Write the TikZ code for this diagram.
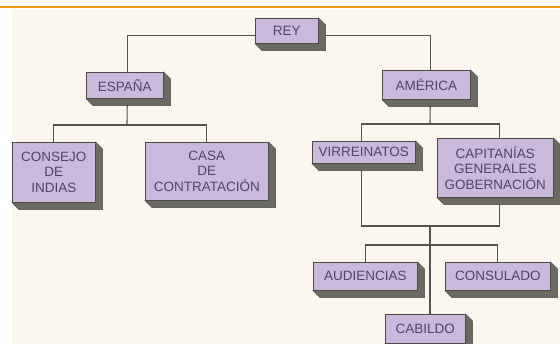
\documentclass[tikz,border=0pt]{standalone}
\usepackage{fontspec}
\setmainfont{Liberation Sans}
\usetikzlibrary{backgrounds}
\definecolor{cream}{HTML}{FBF6EE}
\definecolor{face}{HTML}{CBB8DD}
\definecolor{side}{HTML}{6B6A62}
\definecolor{txt}{HTML}{4E4763}
\definecolor{lin}{HTML}{55534F}
\definecolor{orangeline}{HTML}{F39A12}
\begin{document}
\begin{tikzpicture}[x=1pt,y=-1pt,
  org/.style={draw=side!70!black, line width=0.6pt, fill=face, text=txt,
    inner sep=0pt, anchor=north west, align=center,
    font=\fontsize{13.5}{15.5}\selectfont},
  link/.style={draw=lin, line width=1.1pt},
  extr/.style={fill=side, draw=side!70!black, line width=0.5pt}]
\useasboundingbox (0,0) rectangle (560,344);

\node[org, minimum width=63pt, minimum height=25pt] (rey) at (255,18) {REY};
\node[org, minimum width=77pt, minimum height=26pt] (espana) at (86,72) {ESPAÑA};
\node[org, minimum width=88pt, minimum height=29pt] (america) at (382,70) {AMÉRICA};
\node[org, minimum width=83pt, minimum height=60pt] (consejo) at (12,142) {CONSEJO\\DE\\INDIAS};
\node[org, minimum width=123pt, minimum height=58pt] (casa) at (145,142) {CASA\\DE\\CONTRATACIÓN};
\node[org, minimum width=103pt, minimum height=22pt] (virreinatos) at (312,141) {VIRREINATOS};
\node[org, minimum width=116pt, minimum height=59pt] (capitanias) at (437,138) {CAPITANÍAS\\GENERALES\\GOBERNACIÓN};
\node[org, minimum width=104pt, minimum height=28pt] (audiencias) at (313,262) {AUDIENCIAS};
\node[org, minimum width=105pt, minimum height=28pt] (consulado) at (445,262) {CONSULADO};
\node[org, minimum width=80pt, minimum height=29pt] (cabildo) at (385,314) {CABILDO};

\coordinate (ej) at (127,125);
\coordinate (aj) at (430,124);
\coordinate (bj) at (430,226);
\coordinate (cj) at (430,245);

\begin{pgfonlayer}{background}
  \fill[white] (0,0) rectangle (560,344);
  \fill[cream] (12,9) rectangle (560,344);
  \fill[orangeline] (0,6) rectangle (560,8.5);
  % connectors
  \draw[link] ([yshift=-4.5pt]rey.west) -| ([xshift=2.5pt]espana.north);
  \draw[link] ([yshift=-4.5pt]rey.east) -| ([xshift=4pt]america.north);
  \draw[link] ([xshift=2.5pt]espana.south) -- (ej);
  \draw[link] (consejo.north) |- (ej) -| (casa.north);
  \draw[link] ([xshift=4pt]america.south) -- (aj);
  \draw[link] (aj) -| ([xshift=-2pt]virreinatos.center) |- (bj) -| ([xshift=4pt]capitanias.center) |- (aj);
  \draw[link] (bj) -- (bj |- cabildo.north);
  \draw[link] (audiencias.north) |- (cj) -| (consulado.north);
  % extrusions
  \foreach \n in {rey,espana,america,consejo,casa,virreinatos,capitanias,audiencias,consulado,cabildo}
    \filldraw[extr] (\n.north east) -- ++(7,7) -- ([shift={(7,7)}]\n.south east)
      -- ([shift={(7,7)}]\n.south west) -- (\n.south west) -- (\n.south east) -- cycle;
\end{pgfonlayer}
\end{tikzpicture}
\end{document}
